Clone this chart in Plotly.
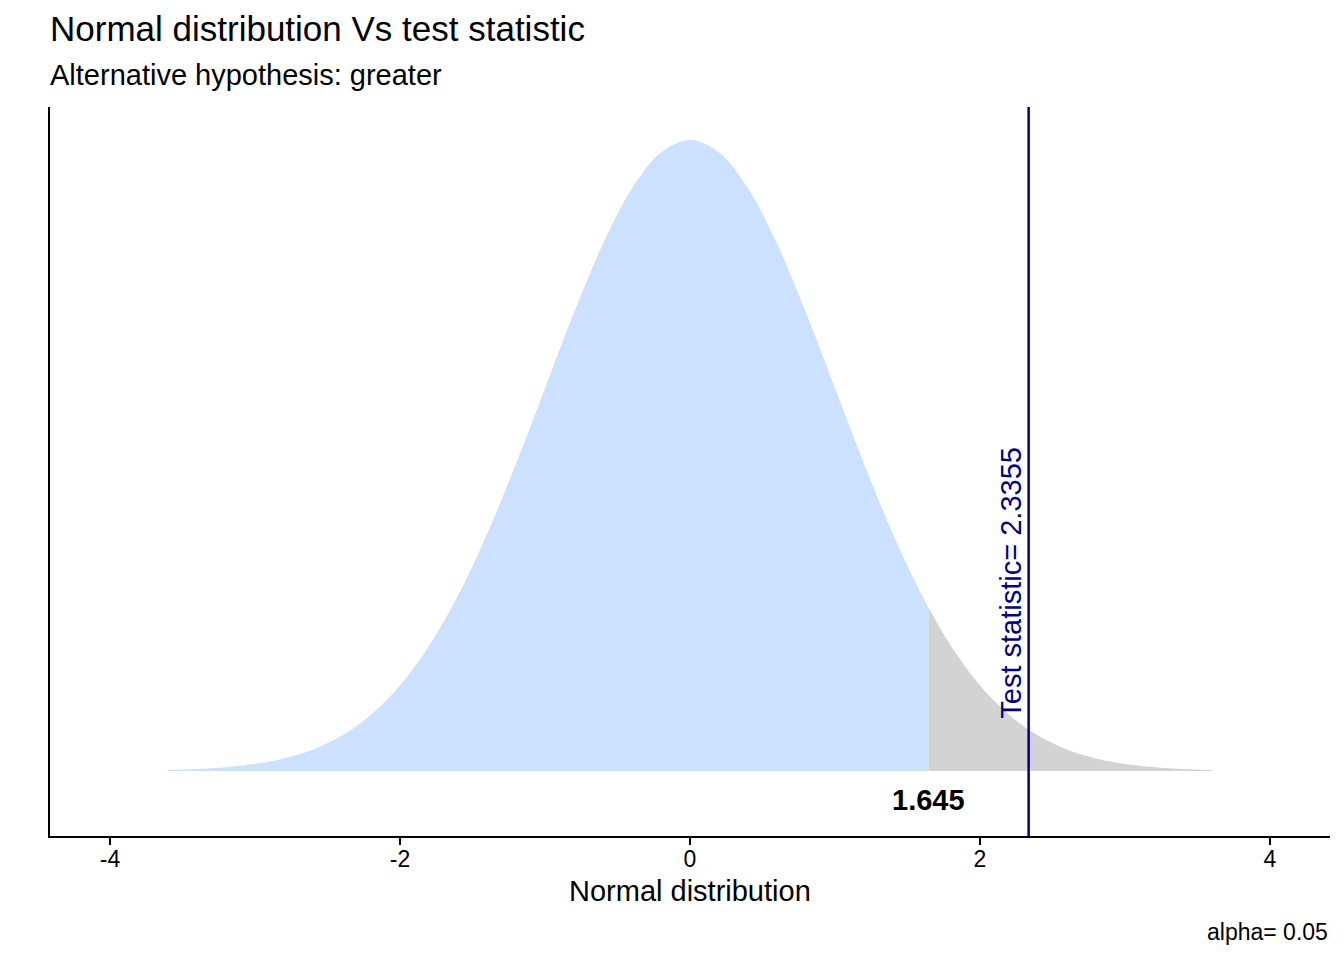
import plotly.graph_objects as go

# Density curve values (x, density)
x_body = [-3.6, -3.4, -3.2, -3.0, -2.8, -2.6, -2.4, -2.2, -2.0, -1.8, -1.6, -1.4, -1.2, -1.0,
          -0.8, -0.6, -0.4, -0.2, 0.0, 0.2, 0.4, 0.6, 0.8, 1.0, 1.2, 1.4, 1.6, 1.645]
y_body = [0.0006, 0.0012, 0.0024, 0.0044, 0.0079, 0.0136, 0.0224, 0.0355, 0.0540, 0.0790,
          0.1109, 0.1497, 0.1942, 0.2420, 0.2897, 0.3332, 0.3683, 0.3910, 0.3989, 0.3910,
          0.3683, 0.3332, 0.2897, 0.2420, 0.1942, 0.1497, 0.1109, 0.1031]
x_tail = [1.645, 1.8, 2.0, 2.2, 2.4, 2.6, 2.8, 3.0, 3.2, 3.4, 3.6]
y_tail = [0.1031, 0.0790, 0.0540, 0.0355, 0.0224, 0.0136, 0.0079, 0.0044, 0.0024, 0.0012, 0.0006]

critical_value = 1.645
test_statistic = 2.3355
alpha = 0.05
x_ticks = [-4, -2, 0, 2, 4]

FONT = "Liberation Sans, Arial, Helvetica, sans-serif"

fig = go.Figure()
fig.add_trace(go.Scatter(x=x_body, y=y_body, mode="lines", line=dict(width=0, shape="spline"),
                         fill="tozeroy", fillcolor="#CCE0FF", hoverinfo="skip", showlegend=False))
fig.add_trace(go.Scatter(x=x_tail, y=y_tail, mode="lines", line=dict(width=0, shape="spline"),
                         fill="tozeroy", fillcolor="#D3D3D3", hoverinfo="skip", showlegend=False))

fig.add_shape(type="line", xref="x", yref="paper", x0=test_statistic, x1=test_statistic,
              y0=0, y1=1, line=dict(color="#00008B", width=2.5))

fig.add_annotation(x=2.214, y=0.119, xref="x", yref="y",
                   text=f"Test statistic= {test_statistic}", textangle=-90, showarrow=False,
                   font=dict(family=FONT, size=29, color="#00008B"),
                   xanchor="center", yanchor="middle")
fig.add_annotation(x=critical_value, y=-0.0183, xref="x", yref="y",
                   text=f"<b>{critical_value}</b>", showarrow=False,
                   font=dict(family=FONT, size=29, color="black"),
                   xanchor="center", yanchor="middle")

fig.add_annotation(x=0, y=1.108, xref="paper", yref="paper", text="Normal distribution Vs test statistic",
                   showarrow=False, xanchor="left", yanchor="middle", xshift=-2,
                   font=dict(family=FONT, size=35, color="black"))
fig.add_annotation(x=0, y=1.044, xref="paper", yref="paper", text="Alternative hypothesis: greater",
                   showarrow=False, xanchor="left", yanchor="middle", xshift=-2,
                   font=dict(family=FONT, size=29, color="black"))
fig.add_annotation(x=0.5, y=-0.0754, xref="paper", yref="paper", text="Normal distribution",
                   showarrow=False, xanchor="center", yanchor="middle",
                   font=dict(family=FONT, size=29, color="black"))
fig.add_annotation(x=1.0, y=-0.132, xref="paper", yref="paper", text=f"alpha= {alpha}",
                   showarrow=False, xanchor="right", yanchor="middle",
                   font=dict(family=FONT, size=23, color="black"))

# page body has an 8px margin, so the figure is sized/offset to compensate
fig.update_layout(
    width=1336, height=952,
    margin=dict(l=42, r=14, t=99, b=124),
    paper_bgcolor="white", plot_bgcolor="white",
    font=dict(family=FONT, color="black"),
    showlegend=False,
)
fig.update_xaxes(range=[-4.414, 4.414], tickvals=x_ticks, ticktext=[str(t) for t in x_ticks],
                 showgrid=False, zeroline=False, showline=True, linecolor="black", linewidth=2,
                 ticks="outside", ticklen=7, tickwidth=2, tickcolor="black", ticklabelstandoff=-6,
                 tickfont=dict(family=FONT, size=23, color="black"))
fig.update_yaxes(range=[-0.0411, 0.4197], showgrid=False, zeroline=False, showline=True,
                 linecolor="black", linewidth=2, showticklabels=False, ticks="")

fig.write_html("out.html")
